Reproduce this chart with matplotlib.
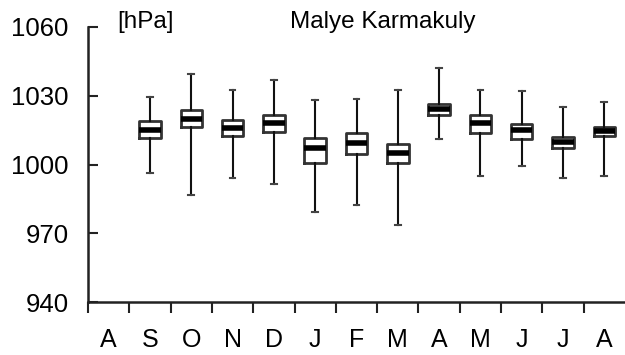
import matplotlib.pyplot as plt

plt.rcParams['font.family'] = ['Liberation Sans', 'DejaVu Sans']

months = ["A", "S", "O", "N", "D", "J", "F", "M", "A", "M", "J", "J", "A"]

# monthly sea level pressure statistics [hPa]; first month has no data
whisk_hi = [None, 1029.6, 1039.4, 1032.5, 1036.9, 1028.1, 1028.6, 1032.5, 1042.2, 1032.5, 1032.2, 1025.2, 1027.1]
q3 = [None, 1019.0, 1023.9, 1019.3, 1021.7, 1011.7, 1013.7, 1009.1, 1026.5, 1021.7, 1017.8, 1012.1, 1016.5]
median = [None, 1015.2, 1020.0, 1016.0, 1018.0, 1007.3, 1009.2, 1005.0, 1024.2, 1018.0, 1015.2, 1009.8, 1014.5]
q1 = [None, 1011.4, 1016.2, 1012.6, 1014.0, 1000.8, 1004.6, 1000.5, 1021.7, 1013.9, 1011.3, 1007.1, 1012.6]
whisk_lo = [None, 996.2, 986.7, 994.0, 991.4, 979.1, 982.2, 973.7, 1011.0, 995.0, 999.5, 994.0, 995.0]

stats = []
positions = []
for i in range(len(months)):
    if median[i] is None:
        continue
    stats.append(dict(med=median[i], q1=q1[i], q3=q3[i],
                      whislo=whisk_lo[i], whishi=whisk_hi[i], fliers=[]))
    positions.append(i + 0.5)

fig = plt.figure(figsize=(6.25, 3.55), dpi=100)
ax = fig.add_axes([88 / 625, 53 / 355, 1 - 88 / 625, 275 / 355])

ax.bxp(stats, positions=positions, widths=0.52, showfliers=False,
       boxprops=dict(color="#333333", linewidth=2),
       medianprops=dict(color="black", linewidth=4, solid_capstyle="butt"),
       whiskerprops=dict(color="#111111", linewidth=1.5),
       capprops=dict(color="#444444", linewidth=1.5),
       capwidths=0.14)

ax.set_xlim(0, 13)
ax.set_ylim(940, 1060)
ax.set_yticks([940, 970, 1000, 1030, 1060])
ax.set_xticks(range(0, 13))
ax.set_xticklabels([])
ax.set_xticks([i + 0.5 for i in range(13)], minor=True)
ax.set_xticklabels(months, minor=True, fontsize=18)
ax.tick_params(axis="x", which="major", direction="out", length=8, width=1.5, color="#222222")
ax.tick_params(axis="x", which="minor", length=0, pad=19)
ax.tick_params(axis="y", direction="in", length=7, width=1.5, color="#222222",
               labelsize=18.5, pad=14)

for side in ["top", "right"]:
    ax.spines[side].set_visible(False)
for side in ["left", "bottom"]:
    ax.spines[side].set_linewidth(1.8)
    ax.spines[side].set_color("#222222")

ax.text(0.054, 1.018, "[hPa]", transform=ax.transAxes, fontsize=17.5,
        ha="left", va="center")
ax.text(0.548, 1.018, "Malye Karmakuly", transform=ax.transAxes, fontsize=17.5,
        ha="center", va="center")

fig.savefig("out.png", dpi=100)
